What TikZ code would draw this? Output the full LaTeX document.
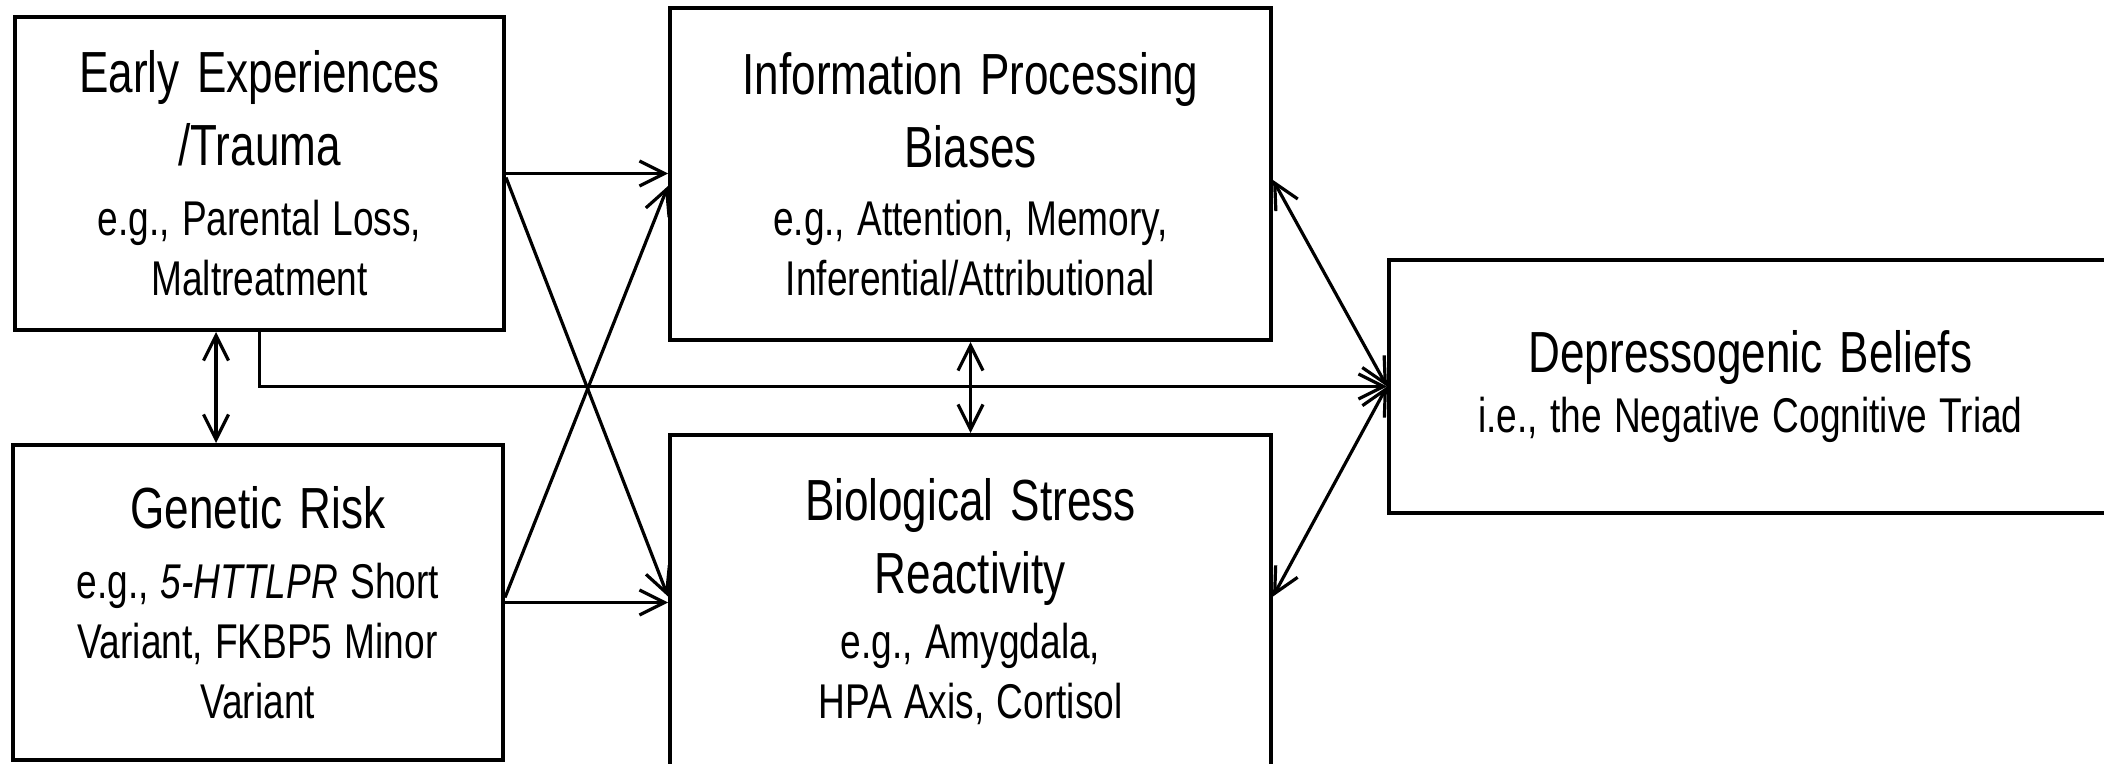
\documentclass[tikz,border=0pt]{standalone}
\usepackage{fontspec}
\setmainfont{Liberation Sans}[FakeStretch=0.76]
\usetikzlibrary{arrows.meta}

% heading and example text sizes, with wider word spaces
\newcommand\hdfont{\fontsize{29pt}{36.5pt}\selectfont\spaceskip=0.3em\relax}
\newcommand\exfont{\fontsize{24.4pt}{30pt}\selectfont\spaceskip=0.25em\relax}

\tikzset{
  box/.style={draw, line width=2pt, rectangle, inner sep=0pt, align=center},
  arr/.style={line width=1.6pt, -{Straight Barb[length=12.5pt,width=12.5pt]}},
  darr/.style={line width=1.6pt, {Straight Barb[length=12.5pt,width=12.5pt]}-{Straight Barb[length=12.5pt,width=12.5pt]}}
}

\begin{document}
\begin{tikzpicture}[x=0.5pt,y=-0.5pt]
  \fill[white] (0,0) rectangle (2104,764);
  \useasboundingbox (0,0) rectangle (2104,764);
  \clip (0,0) rectangle (2104,764);

  % boxes
  \node[box, minimum width=244.5pt, minimum height=156.5pt, text width=230pt] (early) at (259.5,173.5)
    {\hdfont Early Experiences\\/Trauma\par\vspace{5pt}\exfont e.g., Parental Loss,\\Maltreatment\par};
  \node[box, minimum width=245.25pt, minimum height=157.5pt, text width=230pt] (gen) at (257.75,602.5)
    {\hdfont Genetic Risk\par\vspace{5pt}\exfont e.g., \textit{5-HTTLPR} Short\\Variant, FKBP5 Minor\\Variant\par};
  \node[box, minimum width=300.5pt, minimum height=166pt, text width=290pt] (info) at (970.5,174)
    {\hdfont Information Processing\\Biases\par\vspace{4pt}\exfont e.g., Attention, Memory,\\Inferential/Attributional\par};
  \node[box, minimum width=300.5pt, minimum height=166.5pt, text width=290pt] (bio) at (970.5,601.5)
    {\hdfont Biological Stress\\Reactivity\par\vspace{2.5pt}\exfont e.g., Amygdala,\\HPA Axis, Cortisol\par};
  \node[box, minimum width=361.5pt, minimum height=126.5pt, text width=350pt] (dep) at (1750.5,386.5)
    {\hdfont Depressogenic Beliefs\par\exfont i.e., the Negative Cognitive Triad\par};

  % connectors
  \coordinate (egx) at (216,0);
  \draw[arr] (early.east) -- (early.east -| info.west);
  \draw[arr] ([yshift=-2pt]early.east) -- ([yshift=2.5pt]bio.west);
  \draw[arr] (gen.east) -- (gen.east -| bio.west);
  \draw[arr] ([yshift=2.5pt]gen.east) -- ([yshift=-6pt]info.west);
  \draw[arr] (early.south) |- (dep.west);
  \draw[darr] (early.south -| egx) -- (gen.north -| egx);
  \draw[darr] (info.south) -- (bio.north);
  \draw[darr] ([yshift=-3pt]info.east) -- (dep.west);
  \draw[darr] ([yshift=2.5pt]bio.east) -- (dep.west);
\end{tikzpicture}
\end{document}
